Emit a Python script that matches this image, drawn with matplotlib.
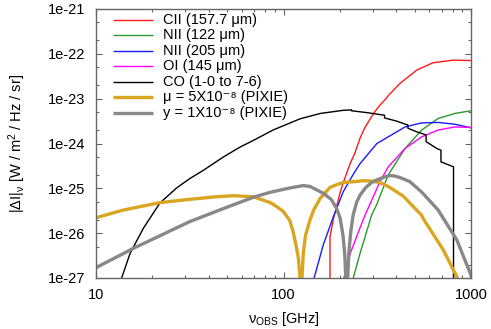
import matplotlib
matplotlib.use("Agg")
import matplotlib.pyplot as plt
from matplotlib.ticker import LogLocator, FixedLocator, NullFormatter

plt.rcParams['font.family'] = ['Liberation Sans', 'DejaVu Sans']
plt.rcParams['mathtext.fontset'] = 'custom'
plt.rcParams['mathtext.rm'] = 'Liberation Sans'
plt.rcParams['mathtext.it'] = 'Liberation Sans'
plt.rcParams['mathtext.sf'] = 'Liberation Sans'
plt.rcParams['mathtext.bf'] = 'Liberation Sans:bold'

# ---------------- data ----------------
# CII (157.7 um)
cii_nu = [177, 177, 184.6, 200, 208, 227, 240, 256, 272, 295, 307, 326, 350, 362, 418, 515, 626, 806, 1000]
cii_I = [1e-28, 8.3e-27, 2.09e-26, 7.76e-26, 1.32e-25, 3.63e-25, 6.03e-25, 1.32e-24, 2.29e-24,
         3.98e-24, 5.13e-24, 7.08e-24, 9.77e-24, 1.17e-23, 2.19e-23, 4.37e-23, 6.31e-23, 7.24e-23, 7.08e-23]

# NII (122 um)
nii122_nu = [232, 235.6, 256, 295, 315, 362, 445, 546, 669, 821, 1000]
nii122_I = [5.0e-28, 1.0e-27, 3.55e-27, 2.51e-26, 4.47e-26, 2.0e-25, 7.76e-25, 2.0e-24, 3.63e-24, 4.68e-24, 5.37e-24]

# NII (205 um)
nii205_nu = [143, 145.6, 163, 184.6, 208, 227, 240, 256, 295, 315, 362, 445, 546, 669, 821, 1000]
nii205_I = [6.3e-28, 1.0e-27, 5.5e-27, 2.34e-26, 8.3e-26, 1.58e-25, 2.34e-25, 3.55e-25, 7.24e-25,
            1.0e-24, 1.41e-24, 2.34e-24, 2.88e-24, 2.95e-24, 2.69e-24, 2.24e-24]

# OI (145 um)
oi_nu = [205, 210, 227, 256, 272, 327, 362, 445, 546, 669, 821, 1000]
oi_I = [5.0e-28, 1.0e-27, 3.55e-27, 1.32e-26, 2.51e-26, 1.41e-25, 3.02e-25, 7.76e-25, 1.41e-24,
        2.0e-24, 2.34e-24, 2.29e-24]

# CO (1-0 to 7-6)
co_nu = [13.0, 13.7, 15.2, 17.9, 21.9, 26.9, 31.7, 37.3, 47.8, 58.6, 69, 88, 122.5, 157, 184.6, 208,
         230.5, 230.5, 277, 345.8, 345.8, 401, 461, 461, 514, 576, 576, 657, 691.5, 691.5, 806.7, 806.7]
co_I = [2.5e-28, 1.0e-27, 3.55e-27, 1.29e-26, 4.68e-26, 1.02e-25, 1.66e-25, 2.51e-25, 5.01e-25, 8.32e-25,
        1.17e-24, 2.0e-24, 3.55e-24, 4.68e-24, 5.13e-24, 5.50e-24,
        5.62e-24, 5.37e-24, 4.90e-24, 4.27e-24, 3.72e-24, 3.16e-24, 2.57e-24, 2.19e-24, 1.82e-24,
        1.55e-24, 1.10e-24, 7.76e-25, 7.08e-25, 3.89e-25, 3.02e-25, 1e-28]

# mu = 5x10^-8 (PIXIE)
mu_nu = [10, 14, 21.9, 31.7, 44, 54, 69, 85, 92, 100, 108, 112.6, 117, 120, 122.5, 124, 125.5,
         127.5, 131, 138.6, 145, 157, 177, 192, 208, 239, 267, 295, 326, 362, 434, 446, 545, 557,
         713, 840, 870]
mu_I = [2.21e-26, 3.28e-26, 4.79e-26, 5.69e-26, 6.50e-26, 6.84e-26, 6.50e-26, 4.8e-26, 3.9e-26,
        3.02e-26, 1.91e-26, 1.07e-26, 5.01e-27, 2.82e-27, 1.0e-27, 3.2e-29, 1.0e-27,
        3.55e-27, 8.9e-27, 2.0e-26, 3.3e-26, 6.0e-26, 1.05e-25, 1.20e-25, 1.35e-25, 1.41e-25,
        1.48e-25, 1.45e-25, 1.35e-25, 1.10e-25, 6.76e-26, 6.03e-26, 2.51e-26, 2.09e-26,
        4.17e-27, 1.07e-27, 6.3e-28]

# y = 1x10^-8 (PIXIE)
y_nu = [10, 15.8, 31.7, 50, 69, 84.7, 108, 127.5, 138.6, 163, 180, 192, 200, 204, 208, 212, 215,
        217.5, 220, 223, 228, 235, 246, 256, 275, 295, 315, 362, 385, 418, 472, 545, 667, 840,
        992, 1000]
y_I = [1.70e-27, 4.57e-27, 1.82e-26, 3.80e-26, 6.31e-26, 8.13e-26, 1.02e-25, 1.15e-25, 1.10e-25,
       7.76e-26, 5.62e-26, 3.55e-26, 2.24e-26, 1.41e-26, 8.3e-27, 3.55e-27, 1.0e-27,
       3.2e-29, 1.0e-27, 3.55e-27, 1.0e-26, 2.51e-26, 5.01e-26, 7.08e-26, 1.05e-25, 1.35e-25,
       1.55e-25, 1.91e-25, 1.91e-25, 1.74e-25, 1.41e-25, 8.3e-26, 3.31e-26, 7.08e-27,
       1.26e-27, 1.12e-27]

labels = ['CII (157.7 μm)', 'NII (122 μm)', 'NII (205 μm)', 'OI (145 μm)', 'CO (1-0 to 7-6)',
          'μ = 5X10⁻⁸ (PIXIE)', 'y = 1X10⁻⁸ (PIXIE)']
xticks = [10, 100, 1000]
xticklabels = ['10', '100', '1000']
yticks = [1e-27, 1e-26, 1e-25, 1e-24, 1e-23, 1e-22, 1e-21]
yticklabels = ['1e-27', '1e-26', '1e-25', '1e-24', '1e-23', '1e-22', '1e-21']

# ---------------- figure ----------------
W, H = 491, 329
FS = 10.5
fig = plt.figure(figsize=(W / 100, H / 100), dpi=100)
ax = fig.add_axes([96 / W, 1 - 278 / H, 375 / W, 269 / H])

series = [
    (cii_nu, cii_I, '#ff1a1a', 1.0),
    (nii122_nu, nii122_I, '#2a9a2a', 1.0),
    (nii205_nu, nii205_I, '#1a1aff', 1.0),
    (oi_nu, oi_I, '#ff00ff', 1.0),
    (co_nu, co_I, '#000000', 1.0),
    (mu_nu, mu_I, '#daa520', 2.4),
    (y_nu, y_I, '#888888', 2.4),
]
for (x, yv, c, lw), lab in zip(series, labels):
    ax.plot(x, yv, color=c, lw=lw, label=lab, solid_joinstyle='round')

ax.set_xscale('log')
ax.set_yscale('log')
ax.set_xlim(10, 1000)
ax.set_ylim(1e-27, 1e-21)

ax.xaxis.set_major_locator(FixedLocator(xticks))
ax.set_xticklabels(xticklabels)
ax.xaxis.set_minor_locator(LogLocator(base=10, subs=range(2, 10)))
ax.xaxis.set_minor_formatter(NullFormatter())
ax.yaxis.set_major_locator(FixedLocator(yticks))
ax.set_yticklabels(yticklabels)
ax.yaxis.set_minor_locator(LogLocator(base=10, subs=[2, 5]))
ax.yaxis.set_minor_formatter(NullFormatter())

spc = '#666666'
for s in ax.spines.values():
    s.set_color(spc)
    s.set_linewidth(1.0)
ax.tick_params(which='both', direction='in', top=True, right=True, color=spc,
               labelsize=FS, labelcolor='black')
ax.tick_params(which='major', length=4.5, width=0.8)
ax.tick_params(which='minor', length=2.5, width=0.8)
ax.tick_params(axis='x', which='major', pad=7)
ax.tick_params(axis='y', which='major', pad=8)

ax.set_ylabel('|ΔI|$_{ν}$ [W / m$^{2}$ / Hz / sr]', fontsize=FS, labelpad=14)
ax.set_xlabel('ν$_{\\rm OBS}$ [GHz]', fontsize=FS, labelpad=6)

# legend: drawn in axes coordinates with fixed row pitch as in the reference
lines = ax.get_lines()
x0, x1, xt = 17 / 375, 57 / 375, 67 / 375
for i, (ln, lab) in enumerate(zip(lines, labels)):
    yy = 1 - (11 + i * 15.45) / 269
    ax.plot([x0, x1], [yy, yy], transform=ax.transAxes, color=ln.get_color(),
            lw=ln.get_linewidth(), solid_capstyle='butt')
    ax.text(xt, yy, lab, transform=ax.transAxes, fontsize=FS, va='center', ha='left')

fig.savefig('out.png', dpi=100)
